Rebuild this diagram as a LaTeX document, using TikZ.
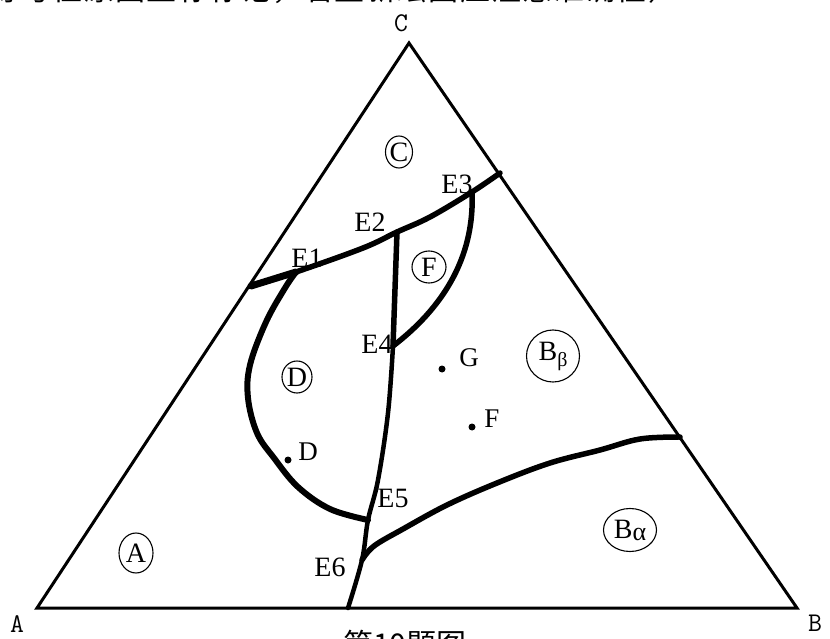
\documentclass[tikz,border=0pt]{standalone}
\usepackage{fontspec}
\setmainfont{Liberation Serif}
\newfontfamily\cjk{Noto Sans CJK SC}
\usetikzlibrary{shapes.geometric}
\begin{document}
\begin{tikzpicture}[x=1pt,y=-1pt,
  tri/.style={line width=3pt, line join=miter},
  bnd/.style={line width=5.5pt, line cap=round, line join=round},
  vlab/.style={font=\ttfamily\fontsize{27}{27}\selectfont, inner sep=0pt},
  elab/.style={font=\fontsize{28}{28}\selectfont, inner sep=0pt},
  plab/.style={font=\fontsize{27}{27}\selectfont, inner sep=0pt},
  circ/.style={draw, ellipse, line width=1.1pt, inner sep=0pt, font=\fontsize{28}{28}\selectfont},
  dot/.style={circle, fill, inner sep=0pt, minimum size=7pt}]
\useasboundingbox (0,0) rectangle (830,639);
\fill[white] (0,0) rectangle (830,639);

% header and caption (cut by the page edge, as in the reference)
\node[anchor=base west, inner sep=0pt, font=\cjk\fontsize{30}{30}\selectfont] (hdr) at (-10,1)
  {\hbox to 688pt{等\hfill 号\hfill 位\hfill 原\hfill 图\hfill 坐\hfill 标\hfill 标\hfill 记\hfill ，\hfill 若\hfill 重\hfill 新\hfill 绘\hfill 图\hfill 应\hfill 注\hfill 意\hfill 准\hfill 确\hfill 性\hfill ）}};
\node[anchor=base west, inner sep=0pt, font=\cjk\fontsize{30}{30}\selectfont] (cap) at (343,655) {第10题图};

% triangle
\coordinate (A) at (37,608);
\coordinate (B) at (797,608);
\coordinate (C) at (409,43);
\draw[tri] (A) -- (B) -- (C) -- cycle;
\node[vlab] (la) at (17,624) {A};
\node[vlab] (lb) at (815,623) {B};
\node[vlab] (lc) at (401,23) {C};

% invariant points
\coordinate (L1) at (251,286);
\coordinate (E1) at (296,272);
\coordinate (E2) at (397,232);
\coordinate (E3) at (472,192);
\coordinate (R1) at (500,173);
\coordinate (E4) at (393,346);
\coordinate (E5) at (368,520);
\coordinate (E6) at (362,560);
\coordinate (Bs) at (348,608);
\coordinate (R2) at (680,437);

% boundary curves
\draw[bnd] plot[smooth, tension=0.6] coordinates {(L1) (E1) (363,248) (E2) (430,217) (E3) (R1)};
\draw[bnd, line width=7pt] (L1) -- (E1);
\draw[bnd] (E2) -- (E4);
\draw[bnd] (E3) .. controls (475,260) and (440,310) .. (E4);
\draw[bnd, line width=4.5pt] plot[smooth, tension=0.6] coordinates {(E4) (388,413) (378,480) (E5) (E6) (Bs)};
\draw[bnd, line width=6pt] plot[smooth, tension=0.6] coordinates {(E1) (285,288) (266,322) (250,365) (248,398) (257,433) (274,458) (298,487) (330,509) (E5)};
\draw[bnd] plot[smooth, tension=0.6] coordinates {(E6) (374,546) (403,529) (447,505) (497,483) (550,463) (600,450) (640,439) (R2)};

% E labels
\node[elab] (le1) at (307,258) {E1};
\node[elab] (le2) at (370,222) {E2};
\node[elab] (le3) at (457,184) {E3};
\node[elab] (le4) at (377,344) {E4};
\node[elab] (le5) at (393,498) {E5};
\node[elab] (le6) at (330,567) {E6};

% phase regions
\node[circ, minimum width=27pt, minimum height=32pt] (pc) at (399,152) {C};
\node[circ, minimum width=34pt, minimum height=32pt] (pf) at (429,267) {F};
\node[circ, minimum width=30pt, minimum height=32pt] (pd) at (297,377) {D};
\node[circ, minimum width=34pt, minimum height=40pt] (pa) at (136,553) {A};
\node[circ, minimum width=53pt, minimum height=52pt] (pbb) at (553,356) {B\raisebox{-6pt}{\fontsize{20}{20}\selectfont β}};
\node[circ, minimum width=53pt, minimum height=43pt] (pba) at (630,530) {B\raisebox{-2pt}{\fontsize{26}{26}\selectfont α}};

% composition points
\node[dot] (g) at (442,369) {};
\node[plab] (lg) at (469,358) {G};
\node[dot] (f) at (472,427) {};
\node[plab] (lf) at (492,419) {F};
\node[dot] (d) at (288,460) {};
\node[plab] (ld) at (308,452) {D};
\end{tikzpicture}
\end{document}
